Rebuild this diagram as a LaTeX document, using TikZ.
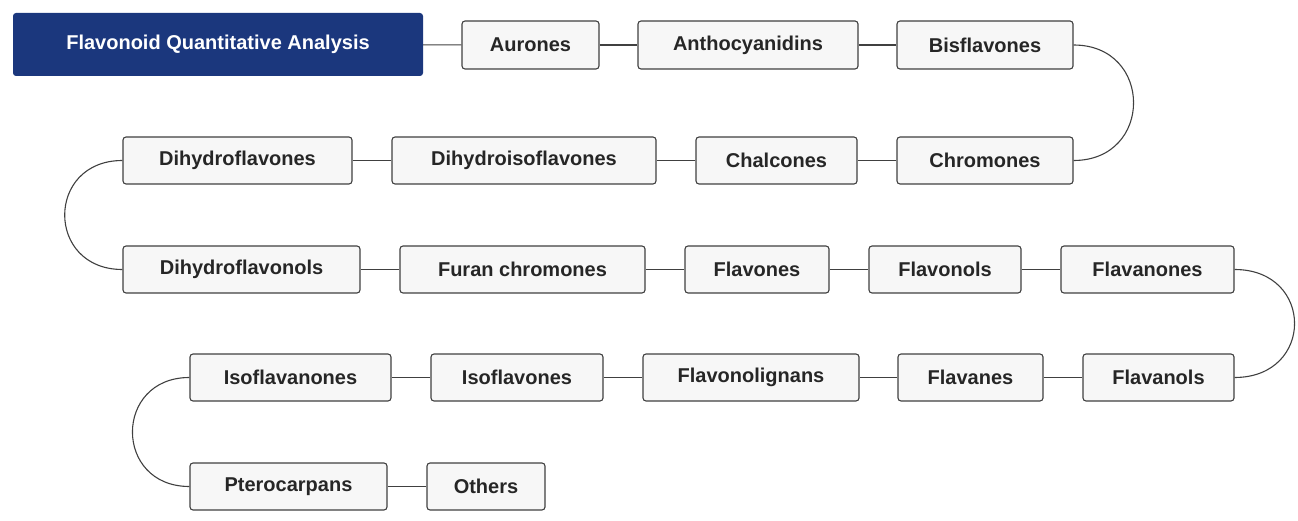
\documentclass[tikz,border=0pt]{standalone}
\usepackage{fontspec}
\setmainfont{Liberation Sans}
\begin{document}
\begin{tikzpicture}[x=1pt,y=-1pt,
  bx/.style={draw=black!75,fill=black!3,rounded corners=3pt,line width=1.1pt,font=\bfseries\fontsize{20}{24}\selectfont,inner sep=0pt,text=black!85},
  ln/.style={draw=black!75,line width=1.1pt}]
\useasboundingbox (0,0) rectangle (1298,521);
\newcommand\bxx[6]{\node[bx,minimum width=#3-#2,minimum height=#5-#4] (#1) at ({(#2+#3)/2},{(#4+#5)/2}) {#6};}
\node[fill={rgb,255:red,27;green,55;blue,125},rounded corners=3pt,minimum width=410,minimum height=63,inner sep=0pt,text=white,font=\bfseries\fontsize{20}{24}\selectfont] (t) at (218,44.5) {Flavonoid Quantitative Analysis};
\bxx{a}{462}{599}{21}{69}{Aurones}
\bxx{b}{638}{858}{21}{69}{Anthocyanidins}
\bxx{c}{897}{1073}{21}{69}{Bisflavones}
\bxx{d}{123}{352}{137}{184}{Dihydroflavones}
\bxx{e}{392}{656}{137}{184}{Dihydroisoflavones}
\bxx{f}{696}{857}{137}{184}{Chalcones}
\bxx{g}{897}{1073}{137}{184}{Chromones}
\bxx{h}{123}{360}{246}{293}{Dihydroflavonols}
\bxx{i}{400}{645}{246}{293}{Furan chromones}
\bxx{j}{685}{829}{246}{293}{Flavones}
\bxx{k}{869}{1021}{246}{293}{Flavonols}
\bxx{l}{1061}{1234}{246}{293}{Flavanones}
\bxx{m}{190}{391}{354}{401}{Isoflavanones}
\bxx{n}{431}{603}{354}{401}{Isoflavones}
\bxx{o}{643}{859}{354}{401}{Flavonolignans}
\bxx{p}{898}{1043}{354}{401}{Flavanes}
\bxx{q}{1083}{1234}{354}{401}{Flavanols}
\bxx{r}{190}{387}{463}{510}{Pterocarpans}
\bxx{s}{427}{545}{463}{510}{Others}
\draw[ln] (t) -- (a); \draw[ln] (a) -- (b); \draw[ln] (b) -- (c);
\draw[ln] (c.east) .. controls +(80,0) and +(80,0) .. (g.east);
\draw[ln] (g) -- (f); \draw[ln] (f) -- (e); \draw[ln] (e) -- (d);
\draw[ln] (d.west) .. controls +(-77,0) and +(-77,0) .. (h.west);
\draw[ln] (h) -- (i); \draw[ln] (i) -- (j); \draw[ln] (j) -- (k); \draw[ln] (k) -- (l);
\draw[ln] (l.east) .. controls +(80,0) and +(80,0) .. (q.east);
\draw[ln] (q) -- (p); \draw[ln] (p) -- (o); \draw[ln] (o) -- (n); \draw[ln] (n) -- (m);
\draw[ln] (m.west) .. controls +(-76,0) and +(-76,0) .. (r.west);
\draw[ln] (r) -- (s);
\end{tikzpicture}
\end{document}
